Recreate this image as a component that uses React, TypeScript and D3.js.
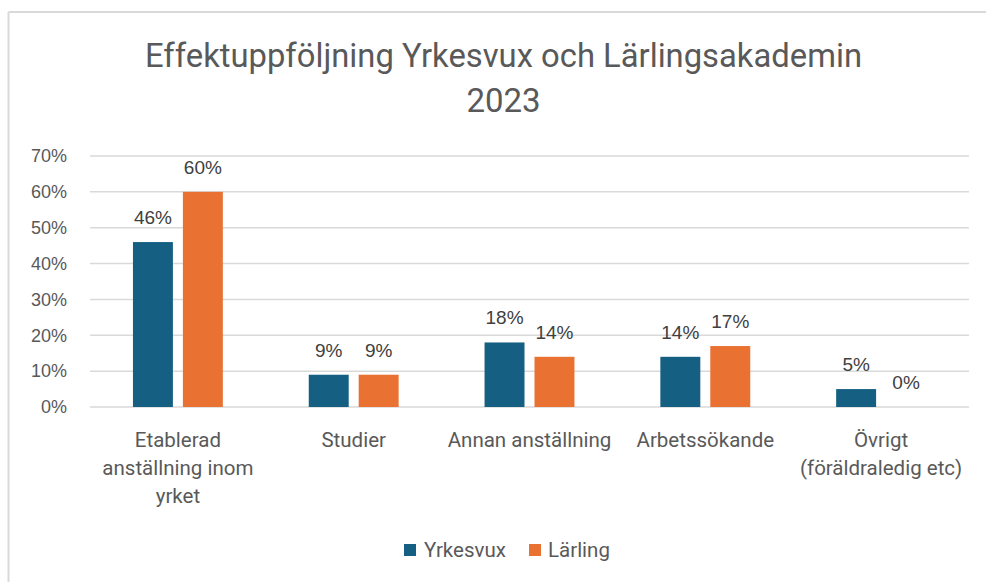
import React from "react";
import * as d3 from "d3";

const categories: string[][] = [
  ["Etablerad", "anställning inom", "yrket"],
  ["Studier"],
  ["Annan anställning"],
  ["Arbetssökande"],
  ["Övrigt", "(föräldraledig etc)"],
];
const seriesNames = ["Yrkesvux", "Lärling"];
const yrkesvux = [0.46, 0.09, 0.18, 0.14, 0.05];
const larling = [0.6, 0.09, 0.14, 0.17, 0.0];
const yTicks = [0, 0.1, 0.2, 0.3, 0.4, 0.5, 0.6, 0.7];
const colors = ["#156082", "#E97132"];
const titleLines = ["Effektuppföljning Yrkesvux och Lärlingsakademin", "2023"];

const W = 986;
const H = 582;
const left = 90;
const right = 969;
const top = 156;
const bottom = 407;

export default function App() {
  const keys = categories.map((c) => c.join(" "));
  const x0 = d3.scaleBand<string>().domain(keys).range([left, right]).paddingInner(0).paddingOuter(0);
  const x1 = d3
    .scaleBand<string>()
    .domain(seriesNames)
    .range([0, x0.bandwidth()])
    .paddingInner(0.2)
    .paddingOuter(0.86);
  const y = d3.scaleLinear().domain([0, 0.7]).range([bottom, top]);
  const fmt = d3.format(".0%");
  const data = [yrkesvux, larling];
  const armFont = "'Liberation Sans', Arial, sans-serif";
  const condFont = "Roboto, 'Noto Sans', sans-serif";

  return (
    <svg width={W} height={H} style={{ position: "absolute", left: 0, top: 0, background: "#fff" }}>
      <rect x={0} y={0} width={W} height={H} fill="#fff" />
      <line x1={8.5} y1={12} x2={W} y2={12} stroke="#d9d9d9" strokeWidth={2} />
      <line x1={8.5} y1={12} x2={8.5} y2={H} stroke="#d9d9d9" strokeWidth={2} />

      {titleLines.map((t, i) => (
        <text
          key={t}
          x={(145 + 862) / 2}
          y={67 + i * 45}
          textAnchor="middle"
          fontFamily={condFont}
          fontSize={33}
          fill="#595959"
          textLength={i === 0 ? 717 : undefined}
          lengthAdjust="spacingAndGlyphs"
        >
          {t}
        </text>
      ))}

      {yTicks.map((t) => (
        <g key={t}>
          <line x1={left} x2={right} y1={y(t)} y2={y(t)} stroke="#d9d9d9" strokeWidth={1.5} />
          <text
            x={67}
            y={y(t)}
            dy="0.35em"
            textAnchor="end"
            fontFamily={armFont}
            fontSize={18}
            fill="#595959"
          >
            {fmt(t)}
          </text>
        </g>
      ))}

      {keys.map((k, ci) => (
        <g key={k} transform={`translate(${x0(k)},0)`}>
          {seriesNames.map((s, si) => {
            const v = data[si][ci];
            const bx = x1(s)!;
            return (
              <g key={s}>
                <rect
                  x={bx}
                  y={y(v)}
                  width={x1.bandwidth()}
                  height={y(0) - y(v)}
                  fill={colors[si]}
                />
                <text
                  x={bx + x1.bandwidth() / 2}
                  y={y(v) - 18}
                  textAnchor="middle"
                  fontFamily={armFont}
                  fontSize={19}
                  fill="#404040"
                >
                  {fmt(v)}
                </text>
              </g>
            );
          })}
          {categories[ci].map((line, li) => (
            <text
              key={line}
              x={x0.bandwidth() / 2}
              y={447 + li * 28}
              textAnchor="middle"
              fontFamily={condFont}
              fontSize={20.5}
              fill="#595959"
            >
              {line}
            </text>
          ))}
        </g>
      ))}

      <g>
        <rect x={404} y={544} width={12} height={12} fill={colors[0]} />
        <text x={424} y={557} fontFamily={condFont} fontSize={20.5} fill="#595959">
          {seriesNames[0]}
        </text>
        <rect x={529} y={544} width={12} height={12} fill={colors[1]} />
        <text x={548} y={557} fontFamily={condFont} fontSize={20.5} fill="#595959">
          {seriesNames[1]}
        </text>
      </g>
    </svg>
  );
}
